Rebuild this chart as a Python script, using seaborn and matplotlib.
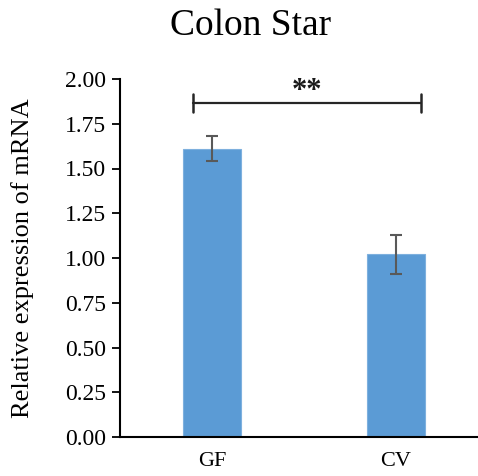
import matplotlib
matplotlib.use("Agg")
import matplotlib.pyplot as plt
import seaborn as sns
import pandas as pd

# Relative mRNA expression per group (mean ± SD)
groups = ["GF", "CV"]
means = [1.61, 1.02]
errors = [0.07, 0.11]
y_ticks = [0.00, 0.25, 0.50, 0.75, 1.00, 1.25, 1.50, 1.75, 2.00]
title = "Colon Star"
y_label = "Relative expression of mRNA"
sig_label = "**"
sig_height = 1.865
sig_span = [-0.105, 1.135]

sns.set_theme(style="white")
plt.rcParams["font.family"] = ["Liberation Serif", "DejaVu Serif"]
plt.rcParams["text.color"] = "black"

df = pd.DataFrame({"group": groups, "value": means})

fig = plt.figure(figsize=(4.78, 4.76), dpi=100)
ax = fig.add_axes([120 / 478, 1 - 437 / 476, 1 - 120 / 478, (437 - 79) / 476])

sns.barplot(data=df, x="group", y="value", color="#5B9BD5", saturation=1,
            width=0.32, errorbar=None, ax=ax, edgecolor="#7EB0DE", linewidth=0.8)

ax.errorbar(range(len(groups)), means, yerr=errors, fmt="none",
            ecolor="#595959", elinewidth=1.5, capsize=4.5, capthick=1.5, zorder=3)

# significance bracket
ax.plot(sig_span, [sig_height, sig_height], color="#262626", lw=1.6, clip_on=False)
for xx in sig_span:
    ax.plot([xx, xx], [sig_height - 0.05, sig_height + 0.05], color="#262626",
            lw=1.8, clip_on=False)
ax.text(sum(sig_span) / 2, sig_height + 0.065, sig_label, ha="center", va="center",
        fontsize=22, fontweight="bold", color="#1a1a1a")

ax.set_xlim(-0.5, 1.446)
ax.set_ylim(0, 2.0)
ax.set_yticks(y_ticks)
ax.set_yticklabels([f"{v:.2f}" for v in y_ticks])
ax.set_xlabel("")
ax.set_ylabel(y_label, fontsize=19, labelpad=22, color="black")
fig.text(251 / 478, 1 - 26 / 476, title, fontsize=27, ha="center", va="center",
         color="black")

for s in ["top", "right"]:
    ax.spines[s].set_visible(False)
for s in ["left", "bottom"]:
    ax.spines[s].set_color("black")
    ax.spines[s].set_linewidth(1.5)

ax.tick_params(axis="y", which="both", left=True, length=6, width=1.3,
               color="black", labelsize=17, pad=4, labelcolor="black")
ax.tick_params(axis="x", bottom=False, labelsize=16, pad=5, labelcolor="black")

fig.savefig("out.png", dpi=100)
